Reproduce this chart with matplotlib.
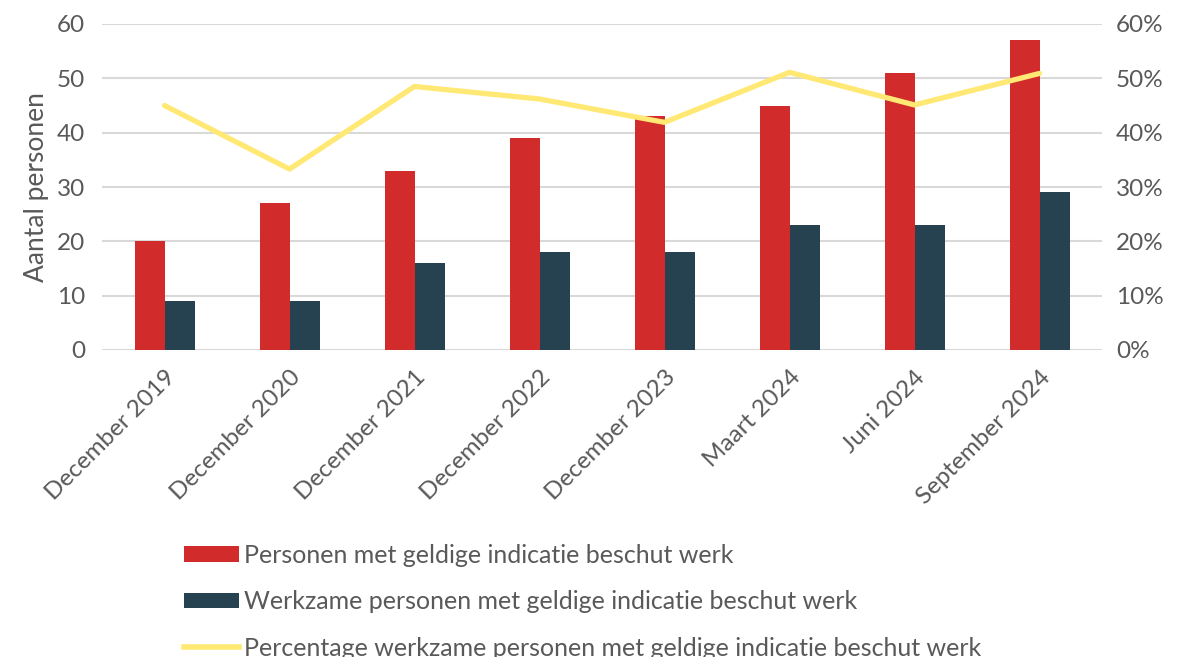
import matplotlib
matplotlib.use("Agg")
import matplotlib.pyplot as plt
import numpy as np
from matplotlib.patches import Patch
from matplotlib.lines import Line2D
from matplotlib.ticker import FuncFormatter

plt.rcParams['font.family'] = ['Lato', 'DejaVu Sans']

categories = ["December 2019", "December 2020", "December 2021", "December 2022",
              "December 2023", "Maart 2024", "Juni 2024", "September 2024"]
personen = [20, 27, 33, 39, 43, 45, 51, 57]
werkzaam = [9, 9, 16, 18, 18, 23, 23, 29]
percentage = [45.0, 33.3, 48.5, 46.2, 41.9, 51.1, 45.1, 50.9]

labels = ["Personen met geldige indicatie beschut werk",
          "Werkzame personen met geldige indicatie beschut werk",
          "Percentage werkzame personen met geldige indicatie beschut werk"]

red = "#D22B2B"
dark = "#264150"
yellow = "#FFE873"
grid = "#D9D9D9"
txt = "#595959"

fig = plt.figure(figsize=(11.78, 6.57), dpi=100)
ax = fig.add_axes([102/1178, 1-350/657, 1000/1178, 326/657])
x = np.arange(len(categories))
w = 0.24
ax.bar(x - w/2, personen, w, color=red, zorder=2)
ax.bar(x + w/2, werkzaam, w, color=dark, zorder=2)
ax.set_xlim(-0.5, len(categories) - 0.5)
ax.set_ylim(0, 60)
ax.set_yticks(range(0, 61, 10))
ax.yaxis.grid(True, color=grid, linewidth=1.5, zorder=0)
ax.set_axisbelow(True)
for s in ax.spines.values():
    s.set_visible(False)
ax.tick_params(axis='both', length=0, labelsize=17.5, colors=txt, pad=12)
ax.set_xticks(x)
ax.set_xticklabels(categories, rotation=45, ha='right', rotation_mode='anchor', fontsize=17.5, color=txt)
ax.tick_params(axis='x', pad=12)
ax.set_ylabel("Aantal personen", fontsize=19, color=txt, labelpad=6)

ax2 = ax.twinx()
ax2.plot(x, percentage, color=yellow, linewidth=3.8, solid_capstyle='round', zorder=3)
ax2.set_ylim(0, 60)
ax2.set_yticks(range(0, 61, 10))
ax2.yaxis.set_major_formatter(FuncFormatter(lambda v, p: f"{int(v)}%"))
for s in ax2.spines.values():
    s.set_visible(False)
ax2.tick_params(axis='y', length=0, labelsize=17.5, colors=txt, pad=10)

handles = [Patch(facecolor=red), Patch(facecolor=dark), Line2D([0], [0], color=yellow, linewidth=4)]
fig.legend(handles, labels, loc='upper left', bbox_to_anchor=(184/1178, 1-544/657),
           frameon=False, fontsize=18, labelcolor=txt, handlelength=2.2, handleheight=0.6,
           handletextpad=0.2, labelspacing=0.93, borderaxespad=0, borderpad=0)

fig.savefig("out.png", dpi=100)
